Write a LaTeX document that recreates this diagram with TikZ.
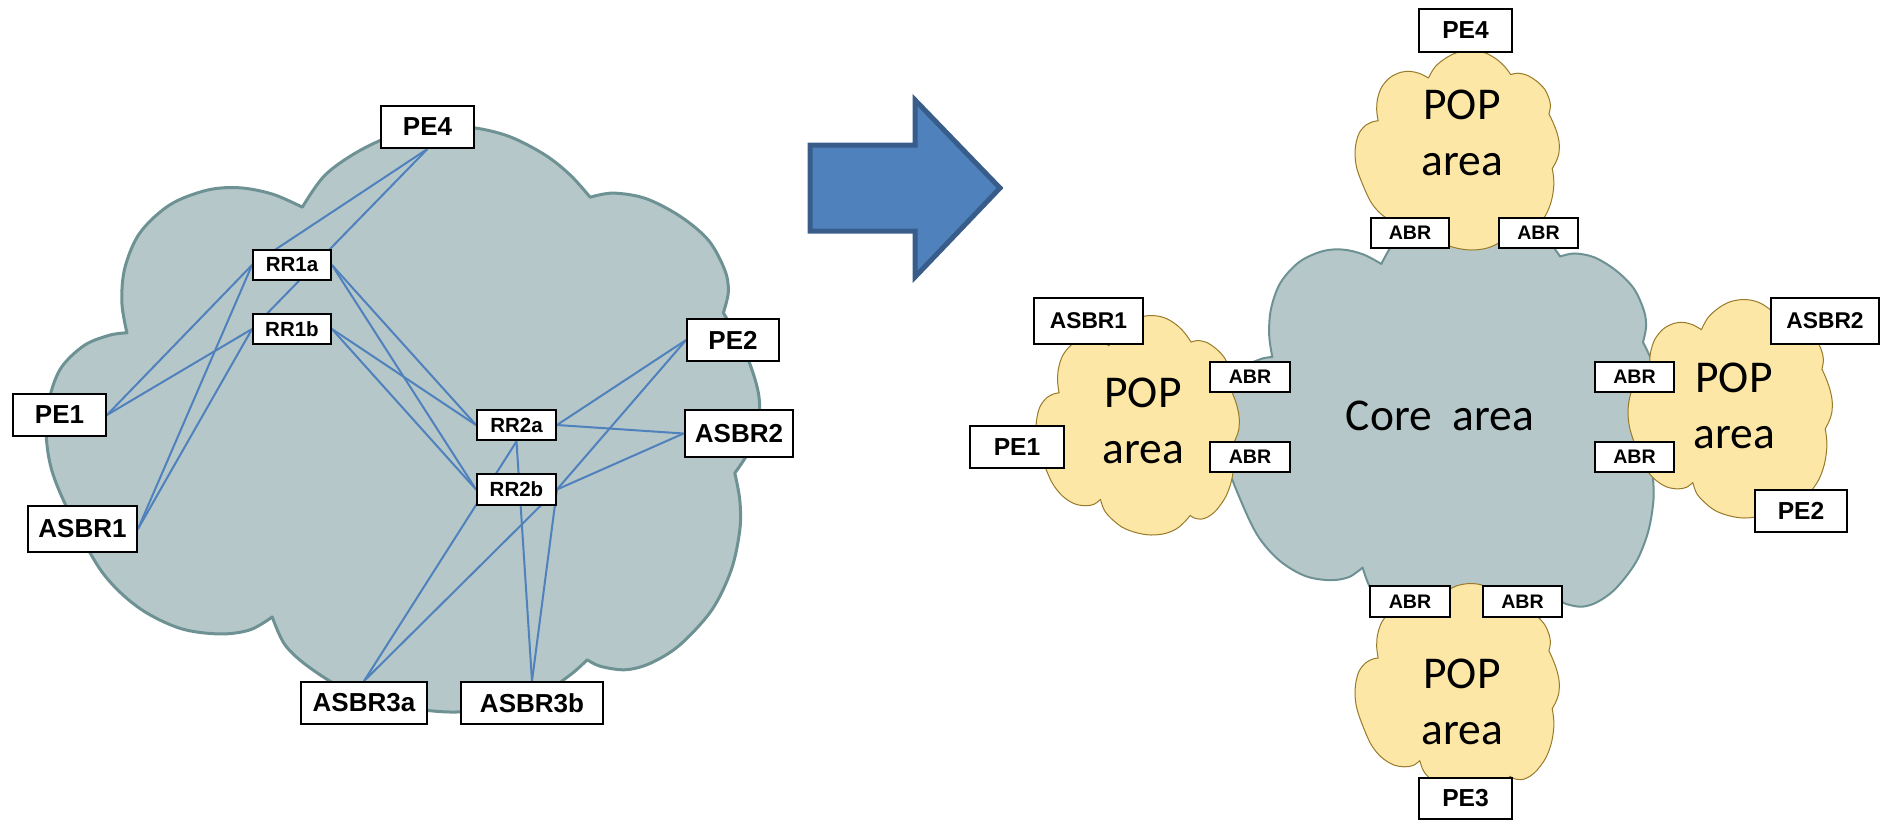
\documentclass[tikz,border=0pt]{standalone}
\usepackage{fontspec}
\setmainfont{Liberation Sans}
\newfontfamily\calib{Carlito}
\pgfdeclarelayer{bg}
\pgfdeclarelayer{edges}
\pgfsetlayers{bg,edges,main}
\definecolor{cloudfill}{RGB}{181,199,201}
\definecolor{cloudline}{RGB}{110,146,148}
\definecolor{popfill}{RGB}{253,231,166}
\definecolor{popline}{RGB}{152,122,40}
\definecolor{linkblue}{RGB}{79,129,189}
\definecolor{arrowfill}{RGB}{79,129,189}
\definecolor{arrowline}{RGB}{56,93,138}
\newcommand\cloudpath{plot[smooth,tension=0.55] coordinates{(0.113,0.354) (0.106,0.303) (0.110,0.244) (0.131,0.184) (0.173,0.136) (0.225,0.111) (0.271,0.107) (0.317,0.118) (0.358,0.140)}
 -- plot[smooth,tension=0.55] coordinates{(0.358,0.140) (0.390,0.085) (0.439,0.043) (0.494,0.014) (0.550,0.003) (0.599,0.005) (0.648,0.020) (0.697,0.051) (0.732,0.085) (0.760,0.123)}
 -- plot[smooth,tension=0.55] coordinates{(0.760,0.123) (0.792,0.116) (0.837,0.125) (0.885,0.155) (0.925,0.196) (0.948,0.247) (0.953,0.284) (0.946,0.320)}
 -- plot[smooth,tension=0.55] coordinates{(0.946,0.320) (0.965,0.360) (0.984,0.410) (0.996,0.465) (0.994,0.520) (0.980,0.560) (0.962,0.593)}
 -- plot[smooth,tension=0.55] coordinates{(0.962,0.593) (0.969,0.639) (0.969,0.690) (0.957,0.758) (0.930,0.826) (0.885,0.886) (0.844,0.917) (0.809,0.928) (0.774,0.922) (0.756,0.911)}
 -- plot[smooth,tension=0.55] coordinates{(0.756,0.911) (0.732,0.937) (0.690,0.971) (0.634,0.993) (0.564,1.0) (0.494,0.990) (0.425,0.966) (0.369,0.925) (0.334,0.886) (0.316,0.838)}
 -- plot[smooth,tension=0.55] coordinates{(0.316,0.838) (0.285,0.860) (0.242,0.867) (0.186,0.857) (0.128,0.821) (0.078,0.761) (0.034,0.664) (0.008,0.588) (0.0,0.520) (0.006,0.460) (0.022,0.412) (0.054,0.375) (0.089,0.358) (0.113,0.354)}
 -- cycle}
\tikzset{
  bigcloud/.style={fill=cloudfill, draw=cloudline, line width=1.5pt, line join=round},
  corecloud/.style={fill=cloudfill, draw=cloudline, line width=1pt, line join=round},
  popcloud/.style={fill=popfill, draw=popline, line width=0.5pt, line join=round},
  link/.style={draw=linkblue, line width=1pt},
  bx/.style n args={2}{draw=black, fill=white, line width=1.2pt, inner sep=0pt, rectangle, minimum width=#1, minimum height=#2},
  lblbig/.style={font=\bfseries\fontsize{13}{13}\selectfont},
  lblrr/.style={font=\bfseries\fontsize{10.25}{10.25}\selectfont},
  lblpe/.style={font=\bfseries\fontsize{12.3}{12.3}\selectfont},
  lblasbr/.style={font=\bfseries\fontsize{11.4}{11.4}\selectfont},
  lblabr/.style={font=\bfseries\fontsize{9.8}{9.8}\selectfont},
  poptext/.style={align=center, inner sep=0pt, font=\calib\fontsize{22.75}{28}\selectfont},
  coretext/.style={inner sep=0pt, font=\calib\fontsize{22.75}{28}\selectfont},
  bigarrow/.style={fill=arrowfill, draw=arrowline, line width=2.5pt, line join=miter}
}
\begin{document}
\begin{tikzpicture}[x=0.5pt, y=-0.5pt]
\useasboundingbox (0,0) rectangle (1881,821);

% ---------- left cloud ----------
\begin{pgfonlayer}{bg}
\begin{scope}[shift={(46,125)}, x=358pt, y=-293.5pt]
  \path[bigcloud] \cloudpath;
\end{scope}
\end{pgfonlayer}

\node[bx={46.25pt}{20.75pt}, lblbig] (PE4L) at (427.5,127) {PE4};
\node[bx={46.25pt}{20.75pt}, lblbig] (PE1L) at (59.5,415) {PE1};
\node[bx={54.25pt}{22.75pt}, lblbig] (ASBR1L) at (82.5,529) {ASBR1};
\node[bx={38.75pt}{14.75pt}, lblrr] (RR1a) at (292,265) {RR1a};
\node[bx={38.75pt}{14.75pt}, lblrr] (RR1b) at (292,329) {RR1b};
\node[bx={39.25pt}{15.25pt}, lblrr] (RR2a) at (516.5,425) {RR2a};
\node[bx={39.25pt}{15.25pt}, lblrr] (RR2b) at (516.5,489.5) {RR2b};
\node[bx={45.75pt}{20.75pt}, lblbig] (PE2L) at (733,340) {PE2};
\node[bx={54.25pt}{23.25pt}, lblbig] (ASBR2L) at (739,433.5) {ASBR2};
\node[bx={62.75pt}{20.75pt}, lblbig] (ASBR3a) at (364,703) {ASBR3a};
\node[bx={70.75pt}{20.75pt}, lblbig] (ASBR3b) at (532,703) {ASBR3b};

\begin{pgfonlayer}{edges}
\draw[link] (PE4L.south) -- (RR1a.west);
\draw[link] (PE4L.south) -- (RR1b.west);
\draw[link] (PE1L.east) -- (RR1a.west);
\draw[link] (PE1L.east) -- (RR1b.west);
\draw[link] (ASBR1L.east) -- (RR1a.west);
\draw[link] (ASBR1L.east) -- (RR1b.west);
\draw[link] (RR1a.east) -- (RR2a.west);
\draw[link] (RR1a.east) -- (RR2b.west);
\draw[link] (RR1b.east) -- (RR2a.west);
\draw[link] (RR1b.east) -- (RR2b.west);
\draw[link] (RR2a.east) -- (PE2L.west);
\draw[link] (RR2a.east) -- (ASBR2L.west);
\draw[link] (RR2b.east) -- (PE2L.west);
\draw[link] (RR2b.east) -- (ASBR2L.west);
\draw[link] (RR2a.south) -- (ASBR3a.north);
\draw[link] (RR2a.south) -- (ASBR3b.north);
\draw[link] (RR2b.east) -- (ASBR3a.north);
\draw[link] (RR2b.east) -- (ASBR3b.north);
\end{pgfonlayer}

% ---------- arrow ----------
\draw[bigarrow] (810,145) -- (915,145) -- (915,100) -- (1000,188) -- (915,277) -- (915,231) -- (810,231) -- cycle;

% ---------- right side clouds ----------
\begin{pgfonlayer}{bg}
\begin{scope}[shift={(1222,203)}, x=222.5pt, y=-217.5pt]
  \path[corecloud] \cloudpath;
\end{scope}
\begin{scope}[shift={(1036,315)}, x=102pt, y=-110pt]
  \path[popcloud] \cloudpath;
\end{scope}
\begin{scope}[shift={(1355,50)}, x=102.5pt, y=-100pt]
  \path[popcloud] \cloudpath;
\end{scope}
\begin{scope}[shift={(1628,299)}, x=102.5pt, y=-109.5pt]
  \path[popcloud] \cloudpath;
\end{scope}
\begin{scope}[shift={(1355,583)}, x=102.5pt, y=-106pt]
  \path[popcloud] \cloudpath;
\end{scope}
\end{pgfonlayer}

\node[coretext, anchor=base] (coretxt) at (1440,430) {Core\ \ area};
\node[poptext] (popL) at (1143,421) {POP\\area};
\node[poptext] (popT) at (1462,133) {POP\\area};
\node[poptext] (popR) at (1734,406) {POP\\area};
\node[poptext] (popB) at (1462,702) {POP\\area};

\node[bx={46.25pt}{21.25pt}, lblpe] (PE4R) at (1465.5,30.5) {PE4};
\node[bx={39.25pt}{14.75pt}, lblabr] (ABRt1) at (1410,233) {ABR};
\node[bx={39.25pt}{14.75pt}, lblabr] (ABRt2) at (1538.5,233) {ABR};
\node[bx={54.25pt}{22.75pt}, lblasbr] (ASBR1R) at (1088.5,321) {ASBR1};
\node[bx={46.75pt}{20.75pt}, lblpe] (PE1R) at (1017,447) {PE1};
\node[bx={39.75pt}{14.75pt}, lblabr] (ABRl1) at (1250,377) {ABR};
\node[bx={39.75pt}{14.75pt}, lblabr] (ABRl2) at (1250,457) {ABR};
\node[bx={39.25pt}{14.75pt}, lblabr] (ABRr1) at (1634.5,377) {ABR};
\node[bx={39.25pt}{14.75pt}, lblabr] (ABRr2) at (1634.5,457) {ABR};
\node[bx={53.75pt}{22.75pt}, lblasbr] (ASBR2R) at (1825,321) {ASBR2};
\node[bx={45.75pt}{20.75pt}, lblpe] (PE2R) at (1801,511) {PE2};
\node[bx={39.75pt}{15.25pt}, lblabr] (ABRb1) at (1410,601.5) {ABR};
\node[bx={39.25pt}{15.25pt}, lblabr] (ABRb2) at (1522.5,601.5) {ABR};
\node[bx={46.25pt}{20.25pt}, lblpe] (PE3R) at (1465.5,798.5) {PE3};
\end{tikzpicture}
\end{document}
